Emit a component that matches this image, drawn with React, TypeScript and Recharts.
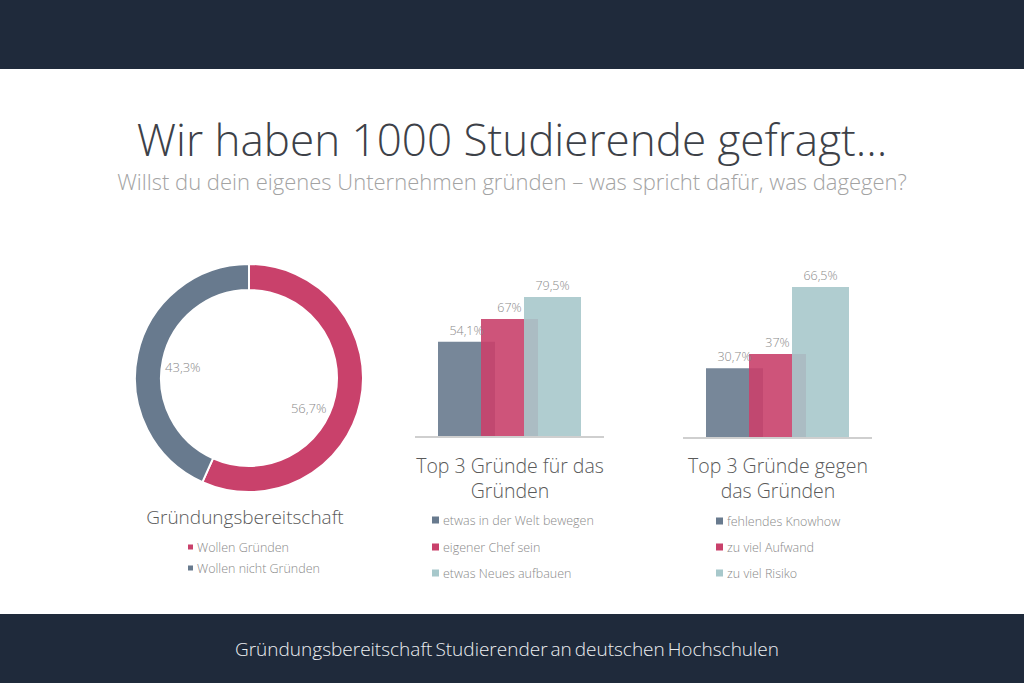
import { Bar, BarChart, Cell, LabelList, Pie, PieChart, XAxis, YAxis } from 'recharts';

// Gründungsbereitschaft (donut)
const donutLabels = ['Wollen Gründen', 'Wollen nicht Gründen'];
const donutValues = [56.7, 43.3];

// Top 3 Gründe für das Gründen
const proLabels = ['etwas in der Welt bewegen', 'eigener Chef sein', 'etwas Neues aufbauen'];
const proValues = [54.1, 67, 79.5];

// Top 3 Gründe gegen das Gründen
const contraLabels = ['fehlendes Knowhow', 'zu viel Aufwand', 'zu viel Risiko'];
const contraValues = [30.7, 37, 66.5];

const SLATE = '#687a8e';
const CRIMSON = '#c9416b';
const TEAL = '#a7c8cb';
const NAVY = '#1f2a3b';
const BAR_COLORS = [SLATE, CRIMSON, TEAL];
const DONUT_COLORS = [CRIMSON, SLATE];
const FONT = '"Open Sans", sans-serif';

const pct = (v: number) => v.toLocaleString('de-DE') + '%';

const donutData = donutLabels.map((name, i) => ({ name, value: donutValues[i] }));

function toRow(values: number[]) {
    const row: Record<string, number | string> = { name: 'g' };
    values.forEach((v, i) => { row['b' + i] = v; });
    return [row];
}

// labels sit inside the hole; the first one is nudged a bit further round, as in the original
const LABEL_SHIFT = [-15, 3];

function DonutLabel(props: any) {
    const { cx, cy, midAngle, value, index } = props;
    const r = 67;
    const rad = (Math.PI / 180) * (midAngle + (LABEL_SHIFT[index] ?? 0));
    const x = cx + r * Math.cos(rad);
    const y = cy - r * Math.sin(rad);
    return (
        <text x={x} y={y} textAnchor="middle" dominantBaseline="central"
            fill="#8a8a8a" fontSize={13} fontFamily={FONT} fontWeight={300}>
            {pct(value)}
        </text>
    );
}

function Bars({ values, plotHeight }: { values: number[]; plotHeight: number }) {
    return (
        <BarChart
            width={189} height={plotHeight + 23} data={toRow(values)}
            margin={{ top: 20, right: 0, bottom: 2, left: 0 }}
            barGap={-14} barSize={57} barCategoryGap={0}
        >
            <XAxis dataKey="name" tick={false} tickLine={false} height={1}
                axisLine={{ stroke: '#cfcfcf', strokeWidth: 2 }} />
            <YAxis hide domain={[0, 100]} />
            {values.map((_, i) => (
                <Bar key={i} dataKey={'b' + i} fill={BAR_COLORS[i]} fillOpacity={0.9}
                    isAnimationActive={false}>
                    <LabelList dataKey={'b' + i} position="top" offset={7}
                        formatter={(v: any) => pct(Number(v))}
                        style={{ fill: '#8a8a8a', fontSize: 12.5, fontFamily: FONT, fontWeight: 300 }} />
                </Bar>
            ))}
        </BarChart>
    );
}

function Legend({ labels, colors, x, ys, size }: { labels: string[]; colors: string[]; x: number; ys: number[]; size: number }) {
    return (
        <>
            {labels.map((label, i) => (
                <g key={label}>
                    <rect x={x} y={ys[i] - size / 2} width={size} height={size} fill={colors[i]} />
                    <text x={x + size + 4} y={ys[i] + 4.5} fontSize={12.5} fill="#8a8a8a"
                        fontFamily={FONT} fontWeight={300}>{label}</text>
                </g>
            ))}
        </>
    );
}

export default function App() {
    return (
        <div style={{ position: 'fixed', left: 0, top: 0, width: 1024, height: 683, background: '#fff', overflow: 'hidden', fontFamily: FONT }}>
            <div style={{ position: 'absolute', left: 0, top: 0, width: 1024, height: 69, background: NAVY }} />
            <div style={{ position: 'absolute', left: 0, top: 614, width: 1024, height: 69, background: NAVY }} />

            <div style={{ position: 'absolute', left: 129, top: 258 }}>
                <PieChart width={240} height={240} margin={{ top: 0, right: 0, bottom: 0, left: 0 }}>
                    <Pie data={donutData} dataKey="value" cx={120} cy={120}
                        innerRadius={88} outerRadius={114} startAngle={90} endAngle={-270}
                        stroke="#fff" strokeWidth={2} labelLine={false} label={DonutLabel}
                        isAnimationActive={false}>
                        {donutData.map((d, i) => <Cell key={d.name} fill={DONUT_COLORS[i]} />)}
                    </Pie>
                </PieChart>
            </div>

            <div style={{ position: 'absolute', left: 415, top: 437 - 20 - 176 }}>
                <Bars values={proValues} plotHeight={176} />
            </div>
            <div style={{ position: 'absolute', left: 683, top: 438 - 20 - 227 }}>
                <Bars values={contraValues} plotHeight={227} />
            </div>

            <svg width={1024} height={683} style={{ position: 'absolute', left: 0, top: 0, pointerEvents: 'none' }}>
                <text x={512} y={156} textAnchor="middle" fontSize={44} fill="#3d4148" fontFamily={FONT} fontWeight={300}>
                    Wir haben 1000 Studierende gefragt…
                </text>
                <text x={512} y={190} textAnchor="middle" fontSize={22} fill="#a3a3a3" fontFamily={FONT} fontWeight={300}>
                    Willst du dein eigenes Unternehmen gründen – was spricht dafür, was dagegen?
                </text>

                <text x={245} y={524} textAnchor="middle" fontSize={19} fill="#5a5a5a" fontFamily={FONT} fontWeight={300}>
                    Gründungsbereitschaft
                </text>
                <Legend labels={donutLabels} colors={DONUT_COLORS} x={188} ys={[547, 568]} size={5} />

                <text x={510} y={473} textAnchor="middle" fontSize={19.5} fill="#5a5a5a" fontFamily={FONT} fontWeight={300}>
                    Top 3 Gründe für das
                </text>
                <text x={510} y={498} textAnchor="middle" fontSize={19.5} fill="#5a5a5a" fontFamily={FONT} fontWeight={300}>
                    Gründen
                </text>
                <Legend labels={proLabels} colors={BAR_COLORS} x={432} ys={[520, 547, 573]} size={7} />

                <text x={778} y={473} textAnchor="middle" fontSize={19.5} fill="#5a5a5a" fontFamily={FONT} fontWeight={300}>
                    Top 3 Gründe gegen
                </text>
                <text x={778} y={498} textAnchor="middle" fontSize={19.5} fill="#5a5a5a" fontFamily={FONT} fontWeight={300}>
                    das Gründen
                </text>
                <Legend labels={contraLabels} colors={BAR_COLORS} x={716} ys={[521, 547, 573]} size={7} />

                <text x={507} y={656} textAnchor="middle" fontSize={19} fill="#eceef1" fontFamily={FONT} fontWeight={300} wordSpacing={-2}>
                    Gründungsbereitschaft Studierender an deutschen Hochschulen
                </text>
            </svg>
        </div>
    );
}
